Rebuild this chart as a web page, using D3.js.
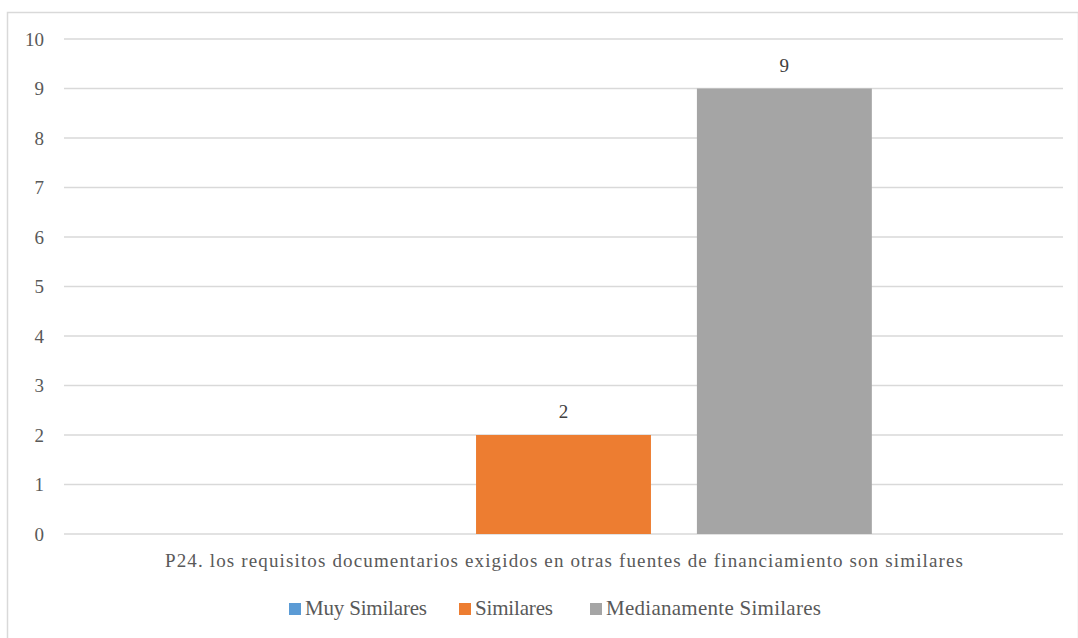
<!DOCTYPE html>
<html>
<head>
<meta charset="utf-8">
<script src="https://cdn.jsdelivr.net/npm/d3@7"></script>
<style>
  body { margin: 0; background: #fff; }
</style>
</head>
<body>
<div id="chart"></div>
<script>
// data
const category = "P24. los requisitos documentarios exigidos en otras fuentes de financiamiento son similares";
const seriesNames = ["Muy Similares", "Similares", "Medianamente Similares"];
const seriesValues = [0, 2, 9];
const seriesColors = ["#5B9BD5", "#ED7D31", "#A5A5A5"];
const yTicks = [0, 1, 2, 3, 4, 5, 6, 7, 8, 9, 10];

const fontFam = "'Liberation Serif', 'DejaVu Serif', 'Times New Roman', serif";

function drawChart() {
    const w = 1078, h = 638;

    const svg = d3.select("#chart").append("svg")
        .attr("width", w)
        .attr("height", h)
        .style("font-family", fontFam);

    // outer frame
    svg.append("rect")
        .attr("x", 7.5).attr("y", 12.5)
        .attr("width", w - 7).attr("height", h)
        .attr("fill", "none")
        .attr("stroke", "#d9d9d9")
        .attr("stroke-width", 1.5);

    const left = 64, right = 1063;

    const yScale = d3.scaleLinear()
        .domain([0, 10])
        .range([534, 39]);

    const xScale = d3.scaleBand()
        .domain([category])
        .range([left, right])
        .paddingInner(0)
        .paddingOuter(0.31);

    const xSub = d3.scaleBand()
        .domain(seriesNames)
        .range([0, xScale.bandwidth()])
        .paddingInner(0.208)
        .paddingOuter(0);

    // gridlines
    svg.append("g")
        .selectAll("line")
        .data(yTicks)
        .enter()
        .append("line")
        .attr("x1", left)
        .attr("x2", right)
        .attr("y1", d => yScale(d))
        .attr("y2", d => yScale(d))
        .attr("stroke", "#d9d9d9")
        .attr("stroke-width", 1.3);

    // y tick labels
    svg.append("g")
        .selectAll("text")
        .data(yTicks)
        .enter()
        .append("text")
        .attr("x", 44)
        .attr("y", d => yScale(d))
        .attr("dy", "0.35em")
        .attr("text-anchor", "end")
        .style("font-size", "19px")
        .style("fill", "#595959")
        .text(d => d);

    const rows = seriesNames.map((s, i) => ({name: s, value: seriesValues[i], color: seriesColors[i]}));

    // bars
    const g = svg.append("g")
        .attr("transform", `translate(${xScale(category)},0)`);

    g.selectAll("rect")
        .data(rows)
        .enter()
        .append("rect")
        .attr("x", d => xSub(d.name))
        .attr("y", d => yScale(d.value))
        .attr("width", xSub.bandwidth())
        .attr("height", d => yScale(0) - yScale(d.value))
        .attr("fill", d => d.color);

    // data labels (only non-zero)
    g.selectAll("text.lbl")
        .data(rows.filter(d => d.value > 0))
        .enter()
        .append("text")
        .attr("class", "lbl")
        .attr("x", d => xSub(d.name) + xSub.bandwidth() / 2)
        .attr("y", d => yScale(d.value) - 17)
        .attr("text-anchor", "middle")
        .style("font-size", "19px")
        .style("fill", "#404040")
        .text(d => d.value);

    // category label
    svg.append("text")
        .attr("x", 165)
        .attr("y", 567)
        .attr("textLength", 798)
        .attr("lengthAdjust", "spacing")
        .style("font-size", "19px")
        .style("fill", "#595959")
        .text(category);

    // legend: square start and text width follow the reference layout
    const legendX = [289, 459, 590];
    const legendTextW = [122, 78, 215];
    const legend = svg.append("g").attr("transform", "translate(0,615)");
    rows.forEach((d, i) => {
        const item = legend.append("g")
            .attr("transform", `translate(${legendX[i]},0)`);
        item.append("rect")
            .attr("x", 0).attr("y", -12)
            .attr("width", 12).attr("height", 12)
            .attr("fill", d.color);
        item.append("text")
            .attr("x", 16).attr("y", 0)
            .attr("textLength", legendTextW[i])
            .attr("lengthAdjust", "spacing")
            .style("font-size", "21px")
            .style("fill", "#595959")
            .text(d.name);
    });
}

window.onload = drawChart();
</script>
</body>
</html>
